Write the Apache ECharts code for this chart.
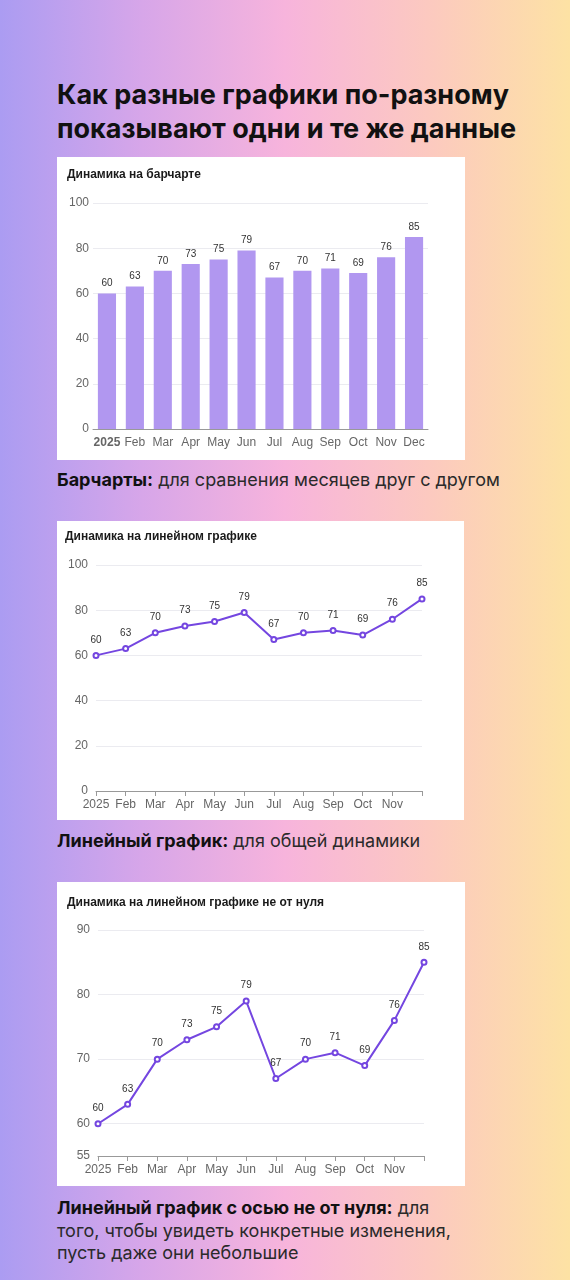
<!DOCTYPE html>
<html>
<head>
<meta charset="utf-8">
<script src="https://cdn.jsdelivr.net/npm/echarts@6.0.0/dist/echarts.min.js"></script>
<style>
  html, body { margin: 0; padding: 0; }
  body {
    width: 570px; height: 1280px; position: relative; overflow: hidden;
    font-family: Inter, "Noto Sans", sans-serif; color: #111;
    background: linear-gradient(90deg, #ab9cf2 0%, #d7a6e9 25%, #f7b4dc 50%, #fcc9c0 75%, #fde2a4 100%);
  }
  .title {
    position: absolute; left: 57px; top: 78px; margin: 0;
    font-size: 27px; line-height: 34px; font-weight: 700; letter-spacing: 0;
  }
  .panel { position: absolute; background: #fff; }
  .caption { position: absolute; left: 57px; font-size: 18px; line-height: 22.5px; color: #2a2a2a; }
  .caption b { color: #111; }
</style>
</head>
<body>
<h1 class="title">Как разные графики по-разному<br>показывают одни и те же данные</h1>

<div id="c1" class="panel" style="left:57px; top:157px; width:408px; height:303px;"></div>
<div class="caption" style="top:469px;"><b>Барчарты:</b> для сравнения месяцев друг с другом</div>

<div id="c2" class="panel" style="left:57px; top:521px; width:407px; height:299px;"></div>
<div class="caption" style="top:830px;"><b>Линейный график:</b> для общей динамики</div>

<div id="c3" class="panel" style="left:57px; top:882px; width:408px; height:304px;"></div>
<div class="caption" style="top:1197px;"><b>Линейный график с осью не от нуля:</b> для<br>того, чтобы увидеть конкретные изменения,<br>пусть даже они небольшие</div>

<script>
// data
const months = ["2025", "Feb", "Mar", "Apr", "May", "Jun", "Jul", "Aug", "Sep", "Oct", "Nov", "Dec"];
const values = [60, 63, 70, 73, 75, 79, 67, 70, 71, 69, 76, 85];
const chartTitles = [
  "Динамика на барчарте",
  "Динамика на линейном графике",
  "Динамика на линейном графике не от нуля"
];

const FONT = "'Liberation Sans', Arial, sans-serif";
const BAR_COLOR = "#b197f0";
const LINE_COLOR = "#7446e0";

function titleOpt(text, left, top) {
  return {
    text: text, left: left, top: top,
    textStyle: { fontFamily: FONT, fontSize: 12, fontWeight: 700, color: "#1a1a1a" }
  };
}

function yAxisOpt(min, max, margin) {
  return {
    type: "value", min: min, max: max,
    axisLine: { show: false }, axisTick: { show: false },
    axisLabel: { color: "#666", fontFamily: FONT, fontSize: 12, margin: margin },
    splitLine: { lineStyle: { color: "#ebebf0", width: 1 } }
  };
}

function xAxisLabel(bold) {
  return {
    color: "#666", fontFamily: FONT, fontSize: 12, margin: 8, interval: 0,
    formatter: (v) => (v === "Dec" && !bold ? "" : v === "2025" && bold ? "{b|" + v + "}" : v),
    rich: { b: { fontWeight: 700, color: "#666", fontFamily: FONT, fontSize: 12 } }
  };
}

const labelStyle = { show: true, position: "top", color: "#333", fontFamily: FONT, fontSize: 10, distance: 5 };

// bar chart
const bar = echarts.init(document.getElementById("c1"));
bar.setOption({
  animation: false,
  title: titleOpt(chartTitles[0], 5, 7),
  grid: { left: 36, right: 37, top: 46, bottom: 31, containLabel: false },
  xAxis: {
    type: "category", data: months,
    axisLine: { lineStyle: { color: "#999" } },
    axisTick: { alignWithLabel: true, lineStyle: { color: "#999" } },
    axisLabel: xAxisLabel(true)
  },
  yAxis: yAxisOpt(0, 100, 4),
  series: [{
    type: "bar", data: values, barCategoryGap: "35%",
    itemStyle: { color: BAR_COLOR },
    label: labelStyle
  }]
});

function lineOption(title, titleLeft, titleTop, grid, min, max) {
  return {
    animation: false,
    title: titleOpt(title, titleLeft, titleTop),
    grid: grid,
    xAxis: {
      type: "category", data: months, boundaryGap: false,
      axisLine: { lineStyle: { color: "#999" } },
      axisTick: { lineStyle: { color: "#999" } },
      axisLabel: xAxisLabel(false)
    },
    yAxis: yAxisOpt(min, max, 8),
    series: [{
      type: "line", data: values,
      symbol: "emptyCircle", symbolSize: 5,
      lineStyle: { color: LINE_COLOR, width: 2 },
      itemStyle: { color: LINE_COLOR, borderWidth: 1.5 },
      label: Object.assign({}, labelStyle, { distance: 7 })
    }]
  };
}

const line = echarts.init(document.getElementById("c2"));
line.setOption(lineOption(chartTitles[1], 3, 5,
  { left: 39, right: 42, top: 44, bottom: 29, containLabel: false }, 0, 100));

const lineNz = echarts.init(document.getElementById("c3"));
lineNz.setOption(lineOption(chartTitles[2], 5, 10,
  { left: 41, right: 41, top: 48, bottom: 30, containLabel: false }, 55, 90));
</script>
</body>
</html>
